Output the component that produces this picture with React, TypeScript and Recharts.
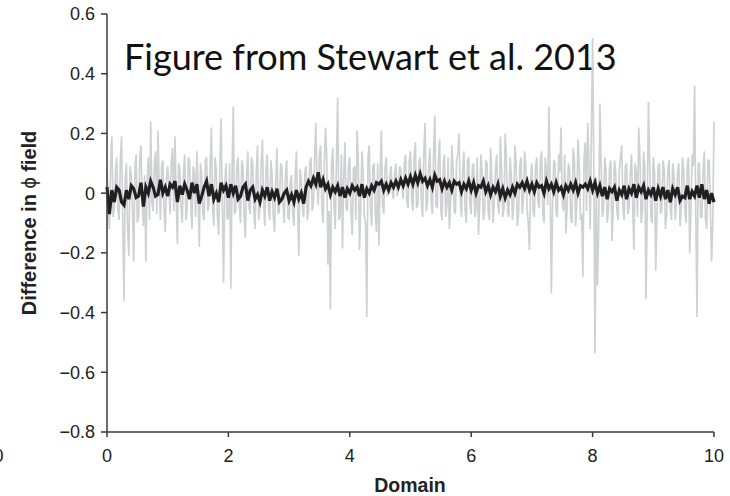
import { LineChart, Line, XAxis, YAxis } from "recharts";

// raw difference (light gray) at x = 0, 0.04, 0.08 ... 10
const rawDiff: number[] = [
  0.08, -0.12, 0.19, -0.05, 0.12, -0.09, 0.19, -0.36, 0.1, -0.21, 0.06, -0.23, 0.13, -0.08, 0.16, -0.11, -0.23, 0.12, 0.24, -0.06, 0.14, 0.21, -0.09, 0.11, -0.13,
  0.09, -0.07, 0.15, 0.19, -0.17, 0.08, -0.1, 0.13, -0.05, 0.11, -0.12, 0.07, 0.14, -0.18, 0.06, -0.09, 0.12, -0.04, 0.22, -0.11, 0.08, -0.14, 0.25, -0.3, 0.1,
  -0.08, -0.32, 0.29, -0.06, 0.12, -0.1, 0.09, -0.15, 0.14, -0.07, 0.1, -0.12, 0.16, -0.05, 0.18, -0.11, 0.13, -0.09, 0.06, -0.13, 0.15, -0.06, 0.09, -0.1, 0.11,
  -0.09, 0.06, -0.11, 0.14, -0.21, 0.05, -0.08, 0.09, -0.06, 0.12, -0.03, 0.235, -0.04, 0.16, -0.1, 0.22, -0.24, -0.39, 0.15, -0.12, 0.32, -0.08, -0.185, 0.17, -0.06,
  0.12, -0.14, 0.09, 0.21, -0.19, 0.14, -0.08, -0.415, 0.16, -0.11, 0.1, -0.13, -0.175, 0.21, -0.07, 0.12, 0.0, 0.09, -0.02, 0.1, 0.01, 0.08, -0.02, 0.13, -0.05,
  0.14, -0.06, 0.17, -0.04, 0.12, -0.08, 0.235, -0.03, 0.15, -0.07, 0.26, -0.05, 0.18, -0.09, 0.13, -0.04, -0.12, 0.16, -0.06, 0.11, 0.2, -0.08, 0.14, -0.1, 0.12,
  -0.07, 0.1, -0.05, -0.14, 0.13, -0.09, 0.11, -0.06, 0.15, -0.1, 0.08, -0.04, 0.19, -0.08, 0.2, -0.06, 0.12, -0.09, 0.16, -0.11, 0.09, -0.07, 0.14, -0.05, -0.19,
  0.1, -0.08, 0.12, -0.05, 0.14, -0.1, 0.08, 0.29, -0.335, 0.11, -0.07, 0.13, 0.22, -0.06, -0.135, 0.1, -0.08, 0.15, -0.11, 0.18, -0.09, -0.28, 0.17, 0.235, -0.12,
  0.52, -0.536, -0.31, 0.3, -0.08, 0.12, -0.1, 0.09, -0.16, 0.11, -0.06, 0.08, 0.16, -0.09, 0.1, -0.05, 0.13, -0.19, 0.07, 0.22, -0.1, 0.14, -0.355, 0.305, -0.08,
  0.12, -0.26, 0.09, -0.07, 0.11, -0.12, 0.08, -0.05, 0.1, -0.09, 0.07, -0.11, 0.12, -0.06, 0.09, -0.2, 0.13, 0.36, -0.415, 0.1, -0.08, 0.14, -0.12, 0.11, -0.23, 0.24,
];

// raw difference at the in-between samples x = 0.02, 0.06 ... 9.98
const rawDiffMid: number[] = [
  -0.04, 0.1, -0.08, 0.07, -0.06, 0.11, -0.1, 0.05, -0.12, 0.09, -0.05, 0.08, -0.1, 0.12, -0.04, 0.06, 0.03, -0.09, -0.03, 0.1, -0.07, 0.02, 0.09, -0.06, 0.05,
  0.02, 0.11, -0.06, -0.02, 0.1, -0.05, 0.07, -0.09, 0.12, -0.03, 0.09, -0.08, 0.03, 0.1, -0.07, 0.11, -0.06, 0.09, -0.05, 0.12, -0.08, 0.1, -0.04, 0.03, -0.09,
  0.1, 0.05, -0.07, 0.09, -0.04, 0.11, -0.08, 0.06, -0.05, 0.12, -0.06, 0.07, -0.09, 0.1, -0.03, 0.08, -0.05, 0.11, -0.08, 0.04, -0.07, 0.1, -0.04, 0.06, -0.08,
  0.04, -0.07, 0.05, -0.04, 0.08, -0.05, 0.07, -0.09, 0.1, -0.06, 0.11, 0.04, 0.13, -0.05, 0.09, 0.12, -0.06, 0.1, -0.04, 0.11, -0.09, 0.13, 0.06, -0.05, 0.1,
  -0.06, 0.08, -0.09, 0.11, -0.04, 0.07, -0.1, 0.12, -0.05, 0.09, -0.07, 0.1, 0.06, -0.04, 0.08, -0.01, 0.06, 0.0, 0.07, -0.01, 0.09, 0.02, 0.1, -0.03, 0.11,
  -0.02, 0.12, -0.05, 0.1, -0.03, 0.14, -0.06, 0.09, -0.02, 0.13, -0.04, 0.11, -0.06, 0.1, -0.08, 0.12, -0.03, 0.09, -0.07, 0.13, -0.02, 0.08, -0.06, 0.11, -0.04,
  0.09, -0.08, 0.12, -0.04, 0.07, -0.06, 0.1, -0.09, 0.05, -0.03, 0.13, -0.07, 0.08, -0.05, 0.11, -0.08, 0.06, -0.04, 0.1, -0.07, 0.12, -0.02, 0.09, -0.1, 0.05,
  -0.06, 0.09, -0.03, 0.11, -0.07, 0.12, -0.04, 0.06, -0.05, 0.1, -0.08, 0.07, -0.03, 0.13, -0.05, 0.08, -0.1, 0.11, -0.04, 0.09, -0.07, 0.12, -0.06, 0.1, 0.2,
  0.08, 0.05, -0.12, 0.1, -0.05, 0.08, -0.06, 0.11, -0.04, 0.07, -0.09, 0.12, -0.05, 0.09, -0.07, 0.06, -0.03, 0.1, -0.08, 0.12, -0.06, 0.09, -0.05, 0.11, -0.1,
  0.07, -0.08, 0.1, -0.05, 0.08, -0.07, 0.11, -0.09, 0.06, -0.04, 0.1, -0.06, 0.08, -0.1, 0.12, -0.05, 0.09, -0.06, 0.1, -0.08, 0.07, -0.09, 0.11, -0.05, -0.1,
];

// smoothed difference (black) at x = 0, 0.04 ... 10
const smoothDiff: number[] = [
  0.02, -0.07, 0.01, -0.03, 0.02, 0.01, -0.03, -0.04, 0.01, -0.02, 0.025, 0.015, -0.015, -0.01, 0.035, -0.045, 0.02, 0.0, 0.04, 0.02, -0.01, -0.005, 0.045, 0.0, 0.02,
  -0.01, 0.03, 0.02, 0.04, -0.03, 0.025, -0.005, 0.03, 0.01, -0.02, 0.035, 0.0, 0.03, -0.035, -0.01, 0.02, 0.04, -0.01, 0.03, -0.02, 0.0, -0.03, 0.035, 0.01, 0.025,
  -0.015, 0.03, 0.0, 0.025, -0.02, -0.01, 0.02, 0.03, -0.025, 0.01, 0.02, -0.02, -0.005, -0.03, 0.01, -0.01, 0.02, -0.025, 0.005, -0.015, 0.015, -0.03, -0.02, 0.0, 0.01,
  -0.025, -0.005, -0.03, 0.01, -0.02, 0.0, -0.035, 0.02, 0.04, 0.025, 0.05, 0.03, 0.07, 0.02, 0.045, 0.015, 0.03, -0.005, 0.02, 0.005, 0.025, -0.01, 0.02, -0.015, 0.015,
  0.0, 0.025, 0.01, 0.02, -0.01, 0.03, -0.015, 0.015, 0.0, 0.025, 0.01, 0.035, 0.03, 0.04, 0.01, 0.03, 0.01, 0.035, 0.02, 0.04, 0.02, 0.045, 0.025, 0.05, 0.03,
  0.055, 0.03, 0.06, 0.035, 0.065, 0.04, 0.05, 0.025, 0.045, 0.02, 0.06, 0.04, 0.045, 0.015, 0.04, 0.02, 0.035, 0.01, 0.04, 0.03, 0.035, 0.005, 0.03, 0.015, 0.04,
  0.01, 0.035, 0.0, 0.025, 0.02, 0.04, 0.005, 0.025, -0.005, 0.02, 0.005, 0.03, -0.01, 0.015, -0.015, 0.01, -0.005, 0.02, 0.0, 0.03, 0.02, 0.035, 0.015, 0.04, 0.01,
  0.03, 0.005, 0.035, 0.02, 0.025, 0.0, 0.04, 0.015, 0.03, 0.005, 0.035, 0.01, 0.02, -0.005, 0.025, 0.01, 0.03, 0.01, 0.035, 0.0, 0.025, 0.02, 0.03, 0.015, 0.04,
  0.01, 0.035, 0.0, 0.025, -0.01, 0.02, -0.02, 0.015, 0.005, 0.02, -0.025, 0.01, -0.005, 0.025, -0.02, 0.015, 0.0, 0.03, -0.015, 0.02, 0.005, 0.025, -0.02, 0.01, -0.005,
  0.02, -0.025, 0.015, -0.01, 0.02, -0.02, 0.01, -0.03, 0.015, -0.005, 0.02, -0.025, -0.01, -0.015, 0.025, -0.02, 0.005, -0.01, 0.025, -0.015, 0.03, -0.02, 0.01, -0.035, 0.0, -0.03,
];

const xTicks = [0, 2, 4, 6, 8, 10];
const yTicks = [-0.8, -0.6, -0.4, -0.2, 0, 0.2, 0.4, 0.6];

// gray: interleave the two sample sets, black: its own grid
const rawData = rawDiff.flatMap((v, i) => {
  const pts = [{ x: +(i * 0.04).toFixed(2), raw: v }];
  if (i < rawDiffMid.length) pts.push({ x: +(i * 0.04 + 0.02).toFixed(2), raw: rawDiffMid[i] });
  return pts;
});
const smoothData = smoothDiff.map((v, i) => ({ x: +(i * 0.04).toFixed(2), smooth: v }));

const AXIS = "#3a3a3a";
const FONT = "'Liberation Sans', Arial, sans-serif";

const fmtY = (v: number) =>
  v === 0 ? "0" : (v < 0 ? "\u2212" : "") + Math.abs(v).toFixed(1);

export default function App() {
  return (
    <div style={{ position: "absolute", left: 0, top: 0, width: 730, height: 496, background: "#fff" }}>
      <LineChart
        width={730}
        height={496}
        margin={{ top: 14, right: 16, bottom: 0, left: 47 }}
      >
        <XAxis
          dataKey="x"
          type="number"
          domain={[0, 10]}
          ticks={xTicks}
          height={64}
          stroke={AXIS}
          strokeWidth={1.5}
          tickSize={5}
          tickMargin={12}
          tick={{ fill: "#222", fontSize: 18, fontFamily: FONT }}
        />
        <XAxis
          xAxisId="top"
          dataKey="x"
          type="number"
          orientation="top"
          domain={[0, 10]}
          ticks={xTicks}
          height={0}
          mirror
          stroke={AXIS}
          strokeWidth={1.5}
          tickSize={5}
          tickFormatter={() => ""}
        />
        <YAxis
          type="number"
          domain={[-0.8, 0.6]}
          ticks={yTicks}
          width={60}
          stroke={AXIS}
          strokeWidth={1.5}
          tickSize={6}
          tickMargin={6}
          tickFormatter={fmtY}
          tick={{ fill: "#222", fontSize: 18, fontFamily: FONT }}
        />
        <YAxis
          yAxisId="right"
          orientation="right"
          type="number"
          domain={[-0.8, 0.6]}
          ticks={yTicks}
          width={0}
          mirror
          stroke={AXIS}
          strokeWidth={1.5}
          tickSize={5}
          tickFormatter={() => ""}
        />
        <Line
          data={rawData}
          dataKey="raw"
          stroke="#d0d1d3"
          strokeWidth={1.7}
          dot={false}
          type="linear"
          isAnimationActive={false}
        />
        <Line
          data={smoothData}
          dataKey="smooth"
          stroke="#231f20"
          strokeWidth={3.2}
          dot={false}
          type="linear"
          isAnimationActive={false}
        />
        <text x={124} y={70} fontFamily="Lato, sans-serif" fontSize={36} fill="#111">
          Figure from Stewart et al. 2013
        </text>
        <text
          x={36}
          y={223}
          transform="rotate(-90, 36, 223)"
          textAnchor="middle"
          fontFamily={FONT}
          fontSize={20}
          fontWeight="bold"
          fill="#222"
        >
          Difference in <tspan fontWeight="normal">ϕ</tspan> field
        </text>
        <text x={410} y={492} textAnchor="middle" fontFamily={FONT} fontSize={19.5} fontWeight="bold" fill="#222">
          Domain
        </text>
        <text x={3.5} y={462} textAnchor="end" fontFamily={FONT} fontSize={18} fill="#222">
          0
        </text>
      </LineChart>
    </div>
  );
}
